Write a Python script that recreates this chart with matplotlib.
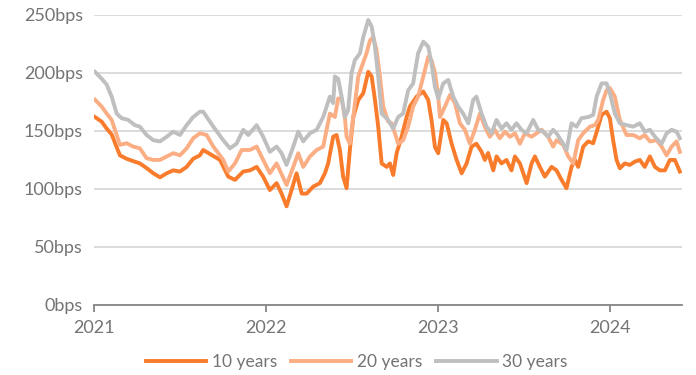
import matplotlib
matplotlib.use("Agg")
import matplotlib.pyplot as plt

# spreads in bps, time as decimal year
t10 = [2021.006, 2021.045, 2021.074, 2021.103, 2021.132, 2021.151, 2021.190, 2021.228, 2021.267,
       2021.306, 2021.345, 2021.384, 2021.423, 2021.461, 2021.500, 2021.539, 2021.577, 2021.616,
       2021.635, 2021.733, 2021.781, 2021.820, 2021.868, 2021.907, 2021.946, 2021.984, 2022.023,
       2022.062, 2022.091, 2022.120, 2022.149, 2022.178, 2022.208, 2022.237, 2022.275, 2022.314,
       2022.343, 2022.362, 2022.391, 2022.411, 2022.430, 2022.449, 2022.469, 2022.488, 2022.508,
       2022.537, 2022.566, 2022.595, 2022.615, 2022.634, 2022.653, 2022.673, 2022.702, 2022.721,
       2022.740, 2022.760, 2022.789, 2022.818, 2022.837, 2022.876, 2022.915, 2022.944, 2022.963,
       2022.983, 2023.002, 2023.031, 2023.051, 2023.080, 2023.109, 2023.138, 2023.167, 2023.196,
       2023.224, 2023.254, 2023.273, 2023.292, 2023.322, 2023.341, 2023.370, 2023.399, 2023.428,
       2023.448, 2023.477, 2023.516, 2023.545, 2023.564, 2023.593, 2023.622, 2023.661, 2023.690,
       2023.719, 2023.748, 2023.777, 2023.797, 2023.816, 2023.845, 2023.874, 2023.903, 2023.923,
       2023.952, 2023.981, 2024.000, 2024.019, 2024.039, 2024.058, 2024.087, 2024.116, 2024.145,
       2024.174, 2024.203, 2024.233, 2024.262, 2024.291, 2024.320, 2024.349, 2024.378, 2024.407]
y10 = [162, 158, 152, 147, 136, 129, 126, 124, 122,
       118, 113.5, 110, 113.5, 116, 115, 119, 126, 129,
       133.6, 125, 110.6, 107.8, 115, 116, 119, 110.6, 99,
       105, 96, 85, 99, 113.5, 96, 96, 102, 105,
       113.5, 122, 145, 146.5, 133.6, 110.6, 100.6, 133.6, 162,
       176.7, 182.5, 201, 197, 176.7, 153.7, 122, 119, 122,
       112, 130.8, 145, 162, 171, 179.6, 184, 176.7, 159.5,
       136, 130.8, 159.5, 156.6, 139, 125, 113.5, 122, 136.5,
       139, 132, 125, 131, 116, 128, 122, 125, 116,
       128, 122, 105, 122, 128, 119, 110.6, 119, 116,
       107.8, 100.6, 119, 125, 119, 136.5, 141, 139.4, 149,
       163.8, 166.6, 161, 142, 125, 117.8, 122, 120.7, 123.5,
       125, 119, 128, 119, 116, 116, 125, 125, 115]

t20 = [2021.006, 2021.045, 2021.074, 2021.103, 2021.132, 2021.151, 2021.190, 2021.228, 2021.267,
       2021.306, 2021.345, 2021.384, 2021.423, 2021.461, 2021.500, 2021.539, 2021.577, 2021.616,
       2021.655, 2021.694, 2021.752, 2021.781, 2021.820, 2021.859, 2021.907, 2021.946, 2021.984,
       2022.023, 2022.062, 2022.081, 2022.120, 2022.159, 2022.188, 2022.217, 2022.256, 2022.295,
       2022.333, 2022.372, 2022.401, 2022.420, 2022.440, 2022.459, 2022.469, 2022.488, 2022.508,
       2022.537, 2022.556, 2022.585, 2022.605, 2022.624, 2022.643, 2022.663, 2022.682, 2022.711,
       2022.731, 2022.750, 2022.769, 2022.798, 2022.827, 2022.856, 2022.885, 2022.915, 2022.944,
       2022.963, 2022.983, 2023.002, 2023.012, 2023.041, 2023.070, 2023.099, 2023.128, 2023.157,
       2023.186, 2023.215, 2023.244, 2023.273, 2023.302, 2023.331, 2023.360, 2023.390, 2023.419,
       2023.448, 2023.477, 2023.506, 2023.545, 2023.574, 2023.603, 2023.641, 2023.670, 2023.690,
       2023.729, 2023.758, 2023.787, 2023.816, 2023.845, 2023.884, 2023.913, 2023.932, 2023.961,
       2023.981, 2024.000, 2024.029, 2024.058, 2024.097, 2024.136, 2024.174, 2024.203, 2024.233,
       2024.272, 2024.301, 2024.330, 2024.359, 2024.388, 2024.407]
y20 = [177, 171, 165, 159.5, 146.5, 138, 139.4, 136.5, 135,
       126.5, 125, 125, 128, 130.8, 129, 135, 143.7, 148,
       146.5, 136.5, 125, 115, 122, 133.6, 133.6, 136.5, 125,
       113.5, 122, 116, 103.4, 119, 130.8, 119, 128, 133.6,
       136.5, 165, 162, 178, 178, 162, 145, 139, 162,
       197, 205, 217, 228, 231, 220, 197, 171, 158,
       156.6, 148, 139, 142, 153.7, 171, 179.6, 197, 214,
       211, 200, 179.6, 162, 171, 181, 174, 156.6, 151,
       139, 151, 165, 153.7, 145, 151, 143.7, 149.4, 145,
       148, 139, 148, 145, 148, 151, 145, 136.5, 142,
       138, 128, 122, 142, 148, 153.7, 155, 159.5, 176.7,
       185, 187, 179.6, 159.5, 146.5, 146.5, 143.7, 146.5, 141,
       142, 136.5, 129, 136.5, 141, 132]

t30 = [2021.006, 2021.045, 2021.074, 2021.103, 2021.132, 2021.161, 2021.199, 2021.238, 2021.267,
       2021.306, 2021.345, 2021.384, 2021.423, 2021.461, 2021.500, 2021.539, 2021.577, 2021.616,
       2021.635, 2021.694, 2021.752, 2021.791, 2021.829, 2021.868, 2021.897, 2021.946, 2021.984,
       2022.023, 2022.062, 2022.091, 2022.120, 2022.159, 2022.188, 2022.217, 2022.256, 2022.295,
       2022.333, 2022.372, 2022.391, 2022.401, 2022.420, 2022.440, 2022.459, 2022.478, 2022.498,
       2022.517, 2022.547, 2022.566, 2022.595, 2022.615, 2022.634, 2022.653, 2022.673, 2022.711,
       2022.740, 2022.769, 2022.798, 2022.827, 2022.856, 2022.885, 2022.915, 2022.944, 2022.963,
       2022.983, 2023.002, 2023.031, 2023.060, 2023.089, 2023.118, 2023.147, 2023.177, 2023.205,
       2023.224, 2023.254, 2023.283, 2023.312, 2023.341, 2023.370, 2023.399, 2023.428, 2023.457,
       2023.486, 2023.516, 2023.554, 2023.583, 2023.612, 2023.641, 2023.670, 2023.690, 2023.729,
       2023.748, 2023.777, 2023.806, 2023.835, 2023.874, 2023.903, 2023.923, 2023.952, 2023.981,
       2024.000, 2024.029, 2024.058, 2024.097, 2024.136, 2024.174, 2024.203, 2024.233, 2024.262,
       2024.301, 2024.330, 2024.359, 2024.388, 2024.407]
y30 = [201, 195, 190, 179.6, 165, 161, 159.5, 155, 153.7,
       146.5, 142, 141, 145, 149.4, 146.5, 155, 162, 166.6,
       166.6, 153.7, 142, 135, 139, 151, 146.5, 155, 145,
       132, 136.5, 130.8, 120.7, 136.5, 149.4, 141, 148, 151,
       162, 179.6, 174, 197, 195, 179.6, 162, 168, 200,
       211, 217, 231, 245.7, 240, 222.7, 197, 165, 159.5,
       152, 162, 165, 185, 191, 217, 227, 222.7, 208,
       188, 178, 191, 194, 179.6, 171, 165, 156.6, 176.7,
       179.6, 165, 153.7, 148, 159.5, 152, 156.6, 151, 156.6,
       151, 148, 159.5, 151, 149.4, 145, 151, 148, 139,
       133.6, 156.6, 153.7, 161, 162, 163.8, 179.6, 191, 191,
       182.5, 165, 156.6, 155, 153.7, 156.6, 149.4, 151, 145,
       139, 148, 151, 149.4, 143.7]

years = [2021, 2022, 2023, 2024]
yticks = [0, 50, 100, 150, 200, 250]

c10 = "#F97C2C"
c20 = "#FBAE84"
c30 = "#BFBFBF"
txt = "#747474"

plt.rcParams['font.family'] = ['Lato', 'DejaVu Sans']

fig = plt.figure(figsize=(6.96, 3.75), dpi=100)
ax = fig.add_axes([0.135, 0.187, 0.845, 0.773])

ax.plot(t10, y10, color=c10, lw=2.8, label="10 years", solid_joinstyle='round')
ax.plot(t20, y20, color=c20, lw=2.8, label="20 years", solid_joinstyle='round')
ax.plot(t30, y30, color=c30, lw=2.8, label="30 years", solid_joinstyle='round')

ax.set_xlim(2021, 2024.42)
ax.set_ylim(0, 250)
ax.set_yticks(yticks)
ax.set_yticklabels([f"{v}bps" for v in yticks])
ax.set_xticks(years)
ax.set_xticklabels([str(y) for y in years])
ax.yaxis.grid(True, color="#D9D9D9", lw=1.3)
ax.set_axisbelow(True)
for s in ["top", "right", "left"]:
    ax.spines[s].set_visible(False)
ax.spines["bottom"].set_color("#868686")
ax.spines["bottom"].set_linewidth(1.3)
ax.tick_params(axis="y", length=0, pad=8, labelsize=13, labelcolor=txt)
ax.tick_params(axis="x", length=5, width=1.3, color="#868686", pad=6, labelsize=13, labelcolor=txt)

fig.legend(loc="center", bbox_to_anchor=(0.512, 0.035), ncol=3, frameon=False,
           fontsize=12.5, labelcolor=txt, handlelength=3.5, handletextpad=0.3, columnspacing=0.8)

fig.savefig("out.png", dpi=100)
